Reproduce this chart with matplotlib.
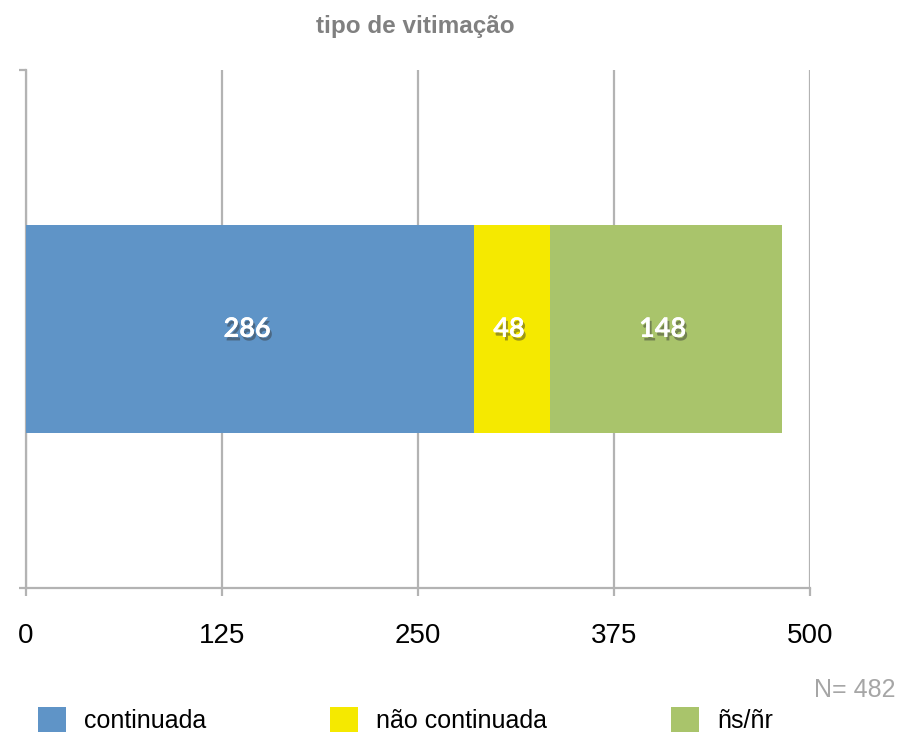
import matplotlib
matplotlib.use("Agg")
import matplotlib.pyplot as plt
import matplotlib.patheffects as pe
from matplotlib.patches import Patch

# data
categorias = ["continuada", "não continuada", "ñs/ñr"]
valores = [286, 48, 148]
cores = ["#5f94c7", "#f5e900", "#a9c46b"]
xticks = [0, 125, 250, 375, 500]
total = sum(valores)

plt.rcParams['font.family'] = ['Liberation Sans', 'DejaVu Sans']
grid_c = "#b3b3b3"

fig = plt.figure(figsize=(9, 7.33), dpi=100)
ax = fig.add_axes([26/900, 1-588/733, (810-26)/900, (588-70)/733])

left = 0
for cat, v, c in zip(categorias, valores, cores):
    ax.barh(0, v, left=left, height=0.403, color=c, zorder=3)
    t = ax.text(left + v/2 - 2, 0, str(v), ha='center', va='center', color='white',
                fontsize=19.5, fontweight='bold', family=['Lato', 'DejaVu Sans'], zorder=4)
    t.set_path_effects([pe.withSimplePatchShadow(offset=(1.5, -2.5), shadow_rgbFace='#333333', alpha=0.45),
                        pe.Normal()])
    left += v

ax.set_xlim(0, 500)
ax.set_ylim(-0.5, 0.5)
ax.set_xticks(xticks)
ax.set_xticklabels([str(x) for x in xticks])
ax.set_yticks([-0.5, 0.5])
ax.set_yticklabels([])
ax.grid(axis='x', color=grid_c, linewidth=1.6, zorder=0)
for s in ['top', 'right']:
    ax.spines[s].set_visible(False)
for s in ['left', 'bottom']:
    ax.spines[s].set_color(grid_c)
    ax.spines[s].set_linewidth(1.6)
ax.tick_params(axis='x', length=6, width=1.6, color=grid_c, labelsize=20, pad=19)
ax.tick_params(axis='y', length=5, width=1.6, color=grid_c)

fig.text(415/900, 1-26/733, "tipo de vitimação", ha='center', va='center',
         fontsize=17.5, fontweight='bold', color='#808080')
fig.text(895/900, 1-690/733, "N= %d" % total, ha='right', va='center',
         fontsize=18, color='#a6a6a6')

handles = [Patch(facecolor=c, edgecolor='none') for c in cores]
fig.legend(handles, categorias, loc='lower left', bbox_to_anchor=(28/900, -0.014),
           ncol=3, frameon=False, fontsize=18, handlelength=1.1, handleheight=1.15,
           handletextpad=0.75, columnspacing=4.95, borderaxespad=0)

fig.savefig("out.png", dpi=100)
